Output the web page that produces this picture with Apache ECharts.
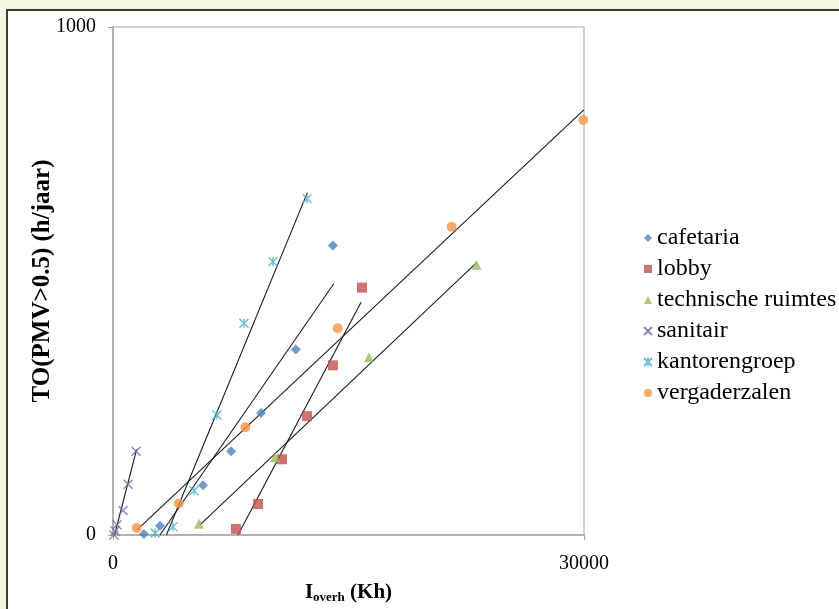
<!DOCTYPE html>
<html><head><meta charset="utf-8">
<script src="https://cdn.jsdelivr.net/npm/echarts@6/dist/echarts.min.js"></script>
<style>html,body{margin:0;padding:0;background:#f3f6e1;}#c{width:839px;height:609px;}</style>
</head><body><div id="c"></div>
<script>
// Data (x: I_overh in Kh, y: TO(PMV>0.5) in h/jaar)
const cafetaria = [[1970,2],[2990,18],[5730,98],[7520,165],[9430,240],[11650,365],[14010,570]];
const lobby = [[7830,12],[9240,61],[10760,149],[12360,234],[14010,334],[15860,487]];
const technische = [[5480,22],[10330,153],[16300,350],[23150,532]];
const sanitair = [[60,0],[130,8],[250,20],[640,48],[960,100],[1470,165]];
const kantorengroep = [[2680,4],[3820,16],[5160,87],[6620,236],[8340,417],[10190,538],[12360,662]];
const vergaderzalen = [[1510,14],[4190,62],[8430,212],[14310,407],[21570,607],[29950,817]];

// Trend line end points
const cafetariaTrend = [[2990,0],[14070,495]];
const lobbyTrend = [[7960,0],[15800,458]];
const technischeTrend = [[5540,20],[23160,536]];
const sanitairTrend = [[100,0],[1500,168]];
const kantorengroepTrend = [[3400,0],[12380,674]];
const vergaderzalenTrend = [[1530,10],[29990,837]];

const xTicks = {min:0, max:30000, interval:30000};
const yTicks = {min:0, max:1000, interval:1000};

const FONT = 'Liberation Serif';
const chart = echarts.init(document.getElementById('c'));
const xPath = 'path://M0,0L10,10M10,0L0,10';
const starPath = 'path://M0,0L10,10M10,0L0,10M5,0L5,10';

function sc(name, data, symbol, color, size, stroke) {
  return {name, type:'scatter', data, symbol, symbolSize:size, z:3,
    itemStyle: stroke ? {color:'rgba(0,0,0,0)', borderColor:color, borderWidth:1.4} : {color}};
}
function tr(name, data) {
  return {name, type:'line', data, symbol:'none', silent:true, z:2,
    lineStyle:{color:'#1a1a1a', width:1.1}};
}
const names = ['cafetaria','lobby','technische ruimtes','sanitair','kantorengroep','vergaderzalen'];

chart.setOption({
  animation:false,
  backgroundColor:'#f3f6e1',
  graphic:[{type:'rect', z:-10, shape:{x:7,y:10,width:850,height:620}, style:{fill:'#ffffff', stroke:'#3c3c3c', lineWidth:2}}],
  grid:{left:113, top:27, right:255, bottom:73, show:true, borderColor:'#c4c4c4', borderWidth:1.5, backgroundColor:'#ffffff'},
  legend:{data:names, orient:'vertical', left:638, top:221, itemWidth:8, itemHeight:8, itemGap:7,
    textStyle:{fontFamily:FONT, fontSize:24, color:'#000'}},
  xAxis:{type:'value', min:xTicks.min, max:xTicks.max, interval:xTicks.interval,
    axisLine:{lineStyle:{color:'#a6a6a6', width:1.5}}, axisTick:{show:true, length:5, lineStyle:{color:'#a6a6a6'}},
    splitLine:{show:false},
    axisLabel:{fontFamily:FONT, fontSize:20, color:'#000', margin:19, formatter:v=>String(v)},
    name:'{a|I}{b|overh}{a| (Kh)}', nameLocation:'middle', nameGap:46, nameMoveOverlap:false,
    nameTextStyle:{rich:{a:{fontFamily:FONT, fontSize:21, fontWeight:'bold', color:'#000'},
      b:{fontFamily:FONT, fontSize:13, fontWeight:'bold', color:'#000', verticalAlign:'bottom', padding:[10,0,0,0]}}}},
  yAxis:{type:'value', min:yTicks.min, max:yTicks.max, interval:yTicks.interval,
    axisLine:{show:true, lineStyle:{color:'#a6a6a6', width:1.5}}, axisTick:{show:true, length:5, lineStyle:{color:'#a6a6a6'}},
    splitLine:{show:false},
    axisLabel:{fontFamily:FONT, fontSize:20, color:'#000', margin:17, formatter:v=>String(v)},
    name:'TO(PMV>0.5) (h/jaar)', nameLocation:'middle', nameGap:58, nameRotate:90, nameMoveOverlap:false,
    nameTextStyle:{fontFamily:FONT, fontSize:25, fontWeight:'bold', color:'#000'}},
  series:[
    sc('cafetaria', cafetaria, 'diamond', '#4f81bd', 10),
    sc('lobby', lobby, 'rect', '#c0504d', 10),
    sc('technische ruimtes', technische, 'triangle', '#9bbb59', 10),
    sc('sanitair', sanitair, xPath, '#8064a2', 9, true),
    sc('kantorengroep', kantorengroep, starPath, '#4bacc6', 9, true),
    sc('vergaderzalen', vergaderzalen, 'circle', '#f79646', 10),
    tr('cafetaria trend', cafetariaTrend),
    tr('lobby trend', lobbyTrend),
    tr('technische trend', technischeTrend),
    tr('sanitair trend', sanitairTrend),
    tr('kantorengroep trend', kantorengroepTrend),
    tr('vergaderzalen trend', vergaderzalenTrend)
  ]
});
</script></body></html>
